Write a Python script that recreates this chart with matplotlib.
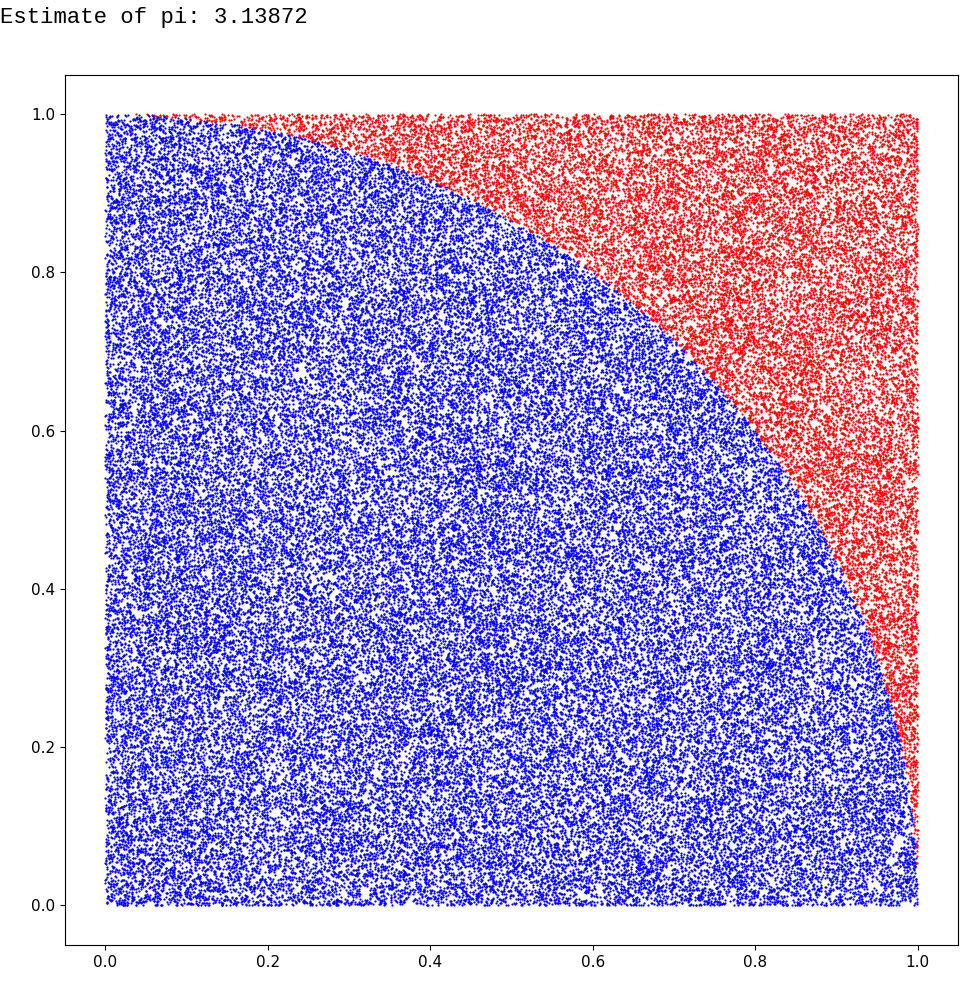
import matplotlib
matplotlib.use("Agg")
import matplotlib.pyplot as plt
import numpy as np

# Monte Carlo sample: the individual points cannot be read off the picture,
# so a fixed-seed sample of the same size stands in for them
n_points = 100000
estimate_text = "Estimate of pi: 3.13872"

rng = np.random.default_rng(0)
x = rng.random(n_points)
y = rng.random(n_points)
inside = x**2 + y**2 <= 1.0

fig = plt.figure(figsize=(9.66, 9.88), dpi=100)
ax = fig.add_axes([0.067, 0.0435, 0.925, 0.881])
ax.plot(x[inside], y[inside], "o", color="blue", ms=1.6, mew=0)
ax.plot(x[~inside], y[~inside], "o", color="red", ms=1.6, mew=0)
ax.set_xlim(-0.05, 1.05)
ax.set_ylim(-0.05, 1.05)
ax.set_xticks([0.0, 0.2, 0.4, 0.6, 0.8, 1.0])
ax.set_yticks([0.0, 0.2, 0.4, 0.6, 0.8, 1.0])
ax.tick_params(labelsize=11)

fig.text(0.0, 0.982, estimate_text, family="Liberation Mono", fontsize=16,
         va="center", ha="left")

fig.savefig("out.png", dpi=100)
